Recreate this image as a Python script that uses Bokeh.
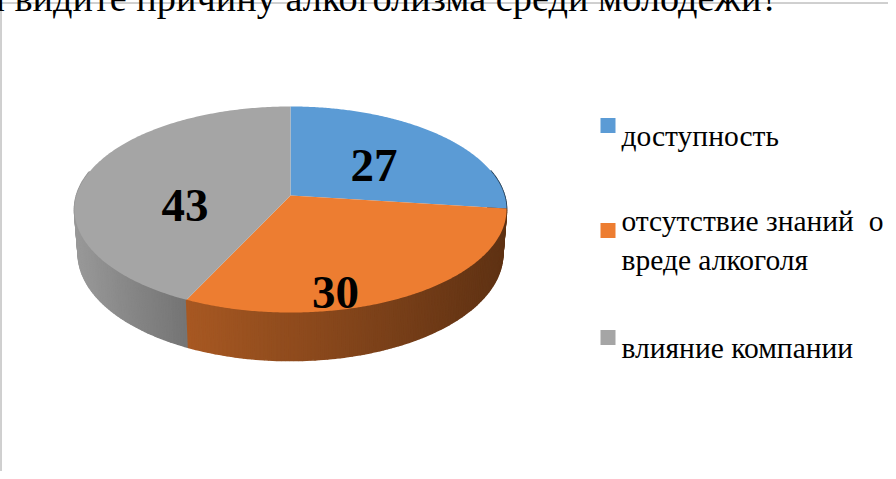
import numpy as np
from bokeh.plotting import figure
from bokeh.models import Range1d
from bokeh.core.properties import value
from bokeh.embed import file_html
from bokeh.resources import INLINE

# ---- data ----
categories = ["доступность", "отсутствие знаний\u00a0 о\nвреде алкоголя", "влияние компании"]
values = [27, 30, 43]
value_labels = ["27", "30", "43"]
title_text = "ы видите причину алкоголизма среди молодежи?"

# ---- styles / layout ----
colors = ["#5B9BD5", "#ED7D31", "#A5A5A5"]
W, H = 896, 479
CX, CY = 298.0, 203.0           # pie centre (px)
F, D = 1387.6, 6.484            # perspective params
ALPHA = np.radians(28.2)
SA, CA = np.sin(ALPHA), np.cos(ALPHA)
THICK = 0.235
label_pos = [(381.5, 173), (343, 300), (192.5, 213)]
legend_x, legend_sq = 608, 15
legend_base = [143, 248, 355]
FONT = "Liberation Serif"


def proj(phi_deg, r=1.0, up=0.0):
    phi = np.radians(phi_deg)
    x3 = r * np.sin(phi)
    ya = r * np.cos(phi)
    z = D + ya * CA - up * SA
    X = F * x3 / z
    Y = F * (ya * SA + up * CA) / z
    return CX + X, CY - Y


def shade(hexcol, f):
    r, g, b = int(hexcol[1:3], 16), int(hexcol[3:5], 16), int(hexcol[5:7], 16)
    return "#%02x%02x%02x" % (int(r * f), int(g * f), int(b * f))


p = figure(width=W, height=H, x_range=Range1d(0, W), y_range=Range1d(H, 0),
           output_backend="svg", toolbar_location=None, min_border=0,
           x_axis_location=None, y_axis_location=None)
p.grid.visible = False
p.outline_line_color = None
p.background_fill_color = "white"
p.border_fill_color = "white"
p.styles = {"margin-left": "-8px", "margin-top": "-8px"}

# frame
p.line([8.5, 8.5, W + 5], [H + 5, 10.5, 10.5], line_color="#a0a0a0", line_width=1)

# angles
total = float(sum(values))
bounds = np.concatenate([[0.0], np.cumsum(values) / total * 360.0])

# side strips
strips = []
for i in range(len(values)):
    a0, a1 = bounds[i], bounds[i + 1]
    n = max(2, int(np.ceil((a1 - a0) / 1.0)))
    angs = np.linspace(a0, a1, n + 1)
    for k in range(n):
        m = 0.5 * (angs[k] + angs[k + 1])
        if np.cos(np.radians(m)) > 0.25:
            continue
        xt0, yt0 = proj(angs[k])
        xt1, yt1 = proj(angs[k + 1])
        xb1, yb1 = proj(angs[k + 1], up=-THICK)
        xb0, yb0 = proj(angs[k], up=-THICK)
        xm = 0.5 * (xt0 + xt1)
        f = float(np.interp(xm, [82, 193, 515], [0.93, 0.71, 0.40]))
        strips.append((np.cos(np.radians(m)), [xt0, xt1, xb1, xb0], [yt0, yt1, yb1, yb0],
                       shade(colors[i], f)))
strips.sort(key=lambda s: -s[0])
p.patches([s[1] for s in strips], [s[2] for s in strips],
          fill_color=[s[3] for s in strips], line_color=[s[3] for s in strips], line_width=1.6)

# top face
xs, ys = [], []
for i in range(len(values)):
    angs = np.linspace(bounds[i], bounds[i + 1], 200)
    px, py = proj(angs)
    xs.append([CX] + list(px))
    ys.append([CY] + list(py))
p.patches(xs, ys, fill_color=colors, line_color=None)

# value labels
p.text([lp[0] for lp in label_pos], [lp[1] for lp in label_pos], text=value_labels,
       text_font=value(FONT), text_font_style="bold", text_font_size="47px",
       text_align="center", text_baseline="alphabetic", text_color="black")

# legend
p.rect([legend_x + legend_sq / 2] * 3, [b - 10 for b in legend_base],
       width=legend_sq, height=legend_sq, fill_color=colors, line_color=None)
p.text([legend_x + 21] * 3, legend_base, text=categories,
       text_font=value(FONT), text_font_size="29.5px", text_line_height=1.19,
       text_align="left", text_baseline="alphabetic", text_color="black")

# title (cut off at the top, as in the source)
p.text([786], [5], text=[title_text], text_font=value(FONT), text_font_size="38.3px",
       text_align="right", text_baseline="alphabetic", text_color="black")

open("out.html", "w").write(file_html(p, INLINE))
